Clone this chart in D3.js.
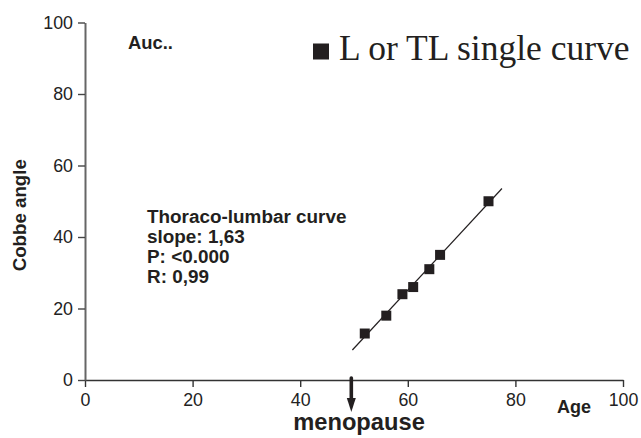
<!DOCTYPE html>
<html>
<head>
<meta charset="utf-8">
<script src="https://cdn.jsdelivr.net/npm/d3@7/dist/d3.min.js"></script>
<style>
  html, body { margin: 0; padding: 0; background: #fff; }
  svg { display: block; }
  text { font-family: Arial, "Liberation Sans", sans-serif; }
</style>
</head>
<body>
<svg id="chart" width="641" height="438"></svg>
<script>
// Age (years) and Cobb angle (degrees) for the lumbar / thoraco-lumbar single curves
const ages = [52, 56, 59, 61, 64, 66, 75];
const cobbAngles = [13, 18, 24, 26, 31, 35, 50];
const xTicks = [0, 20, 40, 60, 80, 100];
const yTicks = [0, 20, 40, 60, 80, 100];
const fitRange = [49.7, 77.5];   // span of the drawn regression line
const menopauseAge = 49.5;
const statsLines = ["Thoraco-lumbar curve", "slope: 1,63", "P: <0.000", "R: 0,99"];
const legendLabel = "L or TL single curve";

const svg = d3.select("#chart");
const x = d3.scaleLinear().domain([0, 100]).range([85, 623]);
const y = d3.scaleLinear().domain([0, 100]).range([380, 22.5]);

// Axes
const gx = svg.append("g").attr("transform", `translate(0,${y(0)})`)
  .call(d3.axisBottom(x).tickValues(xTicks).tickSize(7).tickSizeOuter(0).tickPadding(6));
const gy = svg.append("g").attr("transform", `translate(${x(0)},0)`)
  .call(d3.axisLeft(y).tickValues(yTicks).tickSize(7).tickSizeOuter(0).tickPadding(5));

gx.select(".domain").attr("stroke", "#333").attr("stroke-width", 1.6);
gx.selectAll(".tick line").attr("stroke", "#333").attr("stroke-width", 1.4);
gy.select(".domain").attr("stroke", "#666").attr("stroke-width", 2);
gy.selectAll(".tick line").attr("stroke", "#444").attr("stroke-width", 1.4);
[gx, gy].forEach(g => g.selectAll(".tick text")
  .attr("fill", "#222").style("font-size", "17.8px")
  .style("font-family", "Arial, 'Liberation Sans', sans-serif"));

// Axis titles
svg.append("text")
  .attr("transform", `translate(26,${(y(0) + y(100)) / 2 + 14}) rotate(-90)`)
  .attr("text-anchor", "middle")
  .style("font-size", "18.7px").style("font-weight", "bold").attr("fill", "#231f20")
  .text("Cobbe angle");
svg.append("text").attr("x", 557).attr("y", 413)
  .style("font-size", "18px").style("font-weight", "bold").attr("fill", "#231f20")
  .text("Age");

// Least-squares fit through the points
const mx = d3.mean(ages), my = d3.mean(cobbAngles);
const sxy = d3.sum(ages.map((a, i) => (a - mx) * (cobbAngles[i] - my)));
const sxx = d3.sum(ages.map(a => (a - mx) ** 2));
const slope = sxy / sxx, intercept = my - slope * mx;

svg.append("line")
  .attr("x1", x(fitRange[0])).attr("y1", y(intercept + slope * fitRange[0]))
  .attr("x2", x(fitRange[1])).attr("y2", y(intercept + slope * fitRange[1]))
  .attr("stroke", "#231f20").attr("stroke-width", 1.2);

// Data points
const s = 10;
svg.append("g").selectAll("rect").data(ages).join("rect")
  .attr("x", (d) => x(d) - s / 2)
  .attr("y", (d, i) => y(cobbAngles[i]) - s / 2)
  .attr("width", s).attr("height", s)
  .attr("fill", "#231f20");

// Statistics block
svg.append("text").attr("x", 147).attr("y", 222.5)
  .style("font-size", "18.9px").style("font-weight", "bold").attr("fill", "#231f20")
  .selectAll("tspan").data(statsLines).join("tspan")
  .attr("x", 147).attr("dy", (d, i) => i === 0 ? 0 : 20.3)
  .text(d => d);

// Corner label
svg.append("text").attr("x", 128).attr("y", 49)
  .style("font-size", "18.4px").style("font-weight", "bold").attr("fill", "#231f20")
  .text("Auc..");

// Legend
svg.append("rect").attr("x", 313).attr("y", 43.5).attr("width", 16).attr("height", 16)
  .attr("fill", "#231f20");
svg.append("text").attr("x", 339).attr("y", 59.5)
  .style("font-family", "'Times New Roman', 'Liberation Serif', serif")
  .style("font-size", "35.5px").attr("fill", "#231f20")
  .text(legendLabel);

// Menopause marker
const mxp = x(menopauseAge);
svg.append("line").attr("x1", mxp).attr("x2", mxp).attr("y1", 378).attr("y2", 401)
  .attr("stroke", "#231f20").attr("stroke-width", 3.6).attr("stroke-linecap", "round");
svg.append("path")
  .attr("d", `M${mxp - 4.5},398 L${mxp + 4.5},398 L${mxp},412 Z`)
  .attr("fill", "#231f20");
svg.append("text").attr("x", 359).attr("y", 430)
  .attr("text-anchor", "middle")
  .style("font-size", "23.7px").style("font-weight", "bold").attr("fill", "#231f20")
  .text("menopause");
</script>
</body>
</html>
